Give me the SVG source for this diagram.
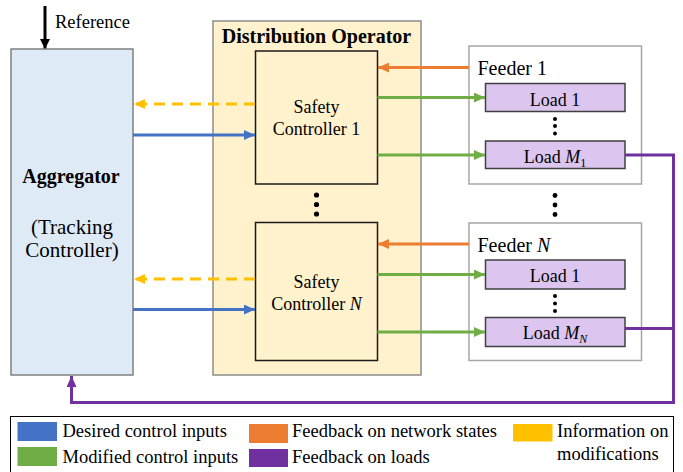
<svg xmlns="http://www.w3.org/2000/svg" width="683" height="472" viewBox="0 0 683 472">
  <style>
    text { font-family: "Liberation Serif", "Times New Roman", serif; fill: #000; }
    .t18 { font-size: 18px; }
    .t20 { font-size: 20px; }
    .lg { font-size: 18.5px; }
    .b { font-weight: bold; font-size: 20px; }
    .mid { text-anchor: middle; }
    .it { font-style: italic; }
    .ctl { fill: #FFF2CC; stroke: #1a1a1a; stroke-width: 1.5; }
    .load { fill: #DCC6F0; stroke: #404040; stroke-width: 1.5; }
    .feeder { fill: #FFFFFF; stroke: #A6A6A6; stroke-width: 1.5; }
    .ln { fill: none; stroke-width: 3; }
    .blue { stroke: #4472C4; }
    .green { stroke: #70AD47; }
    .orange { stroke: #ED7D31; }
    .yellow { stroke: #FFC000; stroke-dasharray: 11 7; }
    .purple { stroke: #7030A0; }
  </style>
  <defs>
    <marker id="ah-blue" markerUnits="userSpaceOnUse" markerWidth="11" markerHeight="10" refX="11" refY="5" orient="auto">
      <path d="M0,0 L11,5 L0,10 z" fill="#4472C4"/>
    </marker>
    <marker id="ah-green" markerUnits="userSpaceOnUse" markerWidth="11" markerHeight="10" refX="11" refY="5" orient="auto">
      <path d="M0,0 L11,5 L0,10 z" fill="#70AD47"/>
    </marker>
    <marker id="ah-orange" markerUnits="userSpaceOnUse" markerWidth="11" markerHeight="10" refX="11" refY="5" orient="auto">
      <path d="M0,0 L11,5 L0,10 z" fill="#ED7D31"/>
    </marker>
    <marker id="ah-yellow" markerUnits="userSpaceOnUse" markerWidth="11" markerHeight="10" refX="11" refY="5" orient="auto">
      <path d="M0,0 L11,5 L0,10 z" fill="#FFC000"/>
    </marker>
    <marker id="ah-purple" markerUnits="userSpaceOnUse" markerWidth="11" markerHeight="10" refX="11" refY="5" orient="auto">
      <path d="M0,0 L11,5 L0,10 z" fill="#7030A0"/>
    </marker>
    <marker id="ah-black" markerUnits="userSpaceOnUse" markerWidth="10" markerHeight="10" refX="10" refY="5" orient="auto">
      <path d="M0,0 L10,5 L0,10 z" fill="#000"/>
    </marker>
  </defs>

  <!-- Reference input -->
  <g id="reference">
    <line x1="45" y1="6" x2="45" y2="49" stroke="#000" stroke-width="3" marker-end="url(#ah-black)"/>
    <text class="lg" x="55" y="28">Reference</text>
  </g>

  <!-- Aggregator -->
  <g id="aggregator">
    <rect x="11" y="49" width="122" height="326" fill="#DEEBF7" stroke="#808080" stroke-width="1.5"/>
    <text class="b mid" x="71" y="183">Aggregator</text>
    <text class="mid" font-size="21" x="72" y="234">(Tracking</text>
    <text class="mid" font-size="21" x="72" y="257">Controller)</text>
  </g>

  <!-- Distribution operator with safety controllers -->
  <g id="distribution-operator">
    <rect x="213" y="21" width="208" height="354" fill="#FFF2CC" stroke="#8C8C8C" stroke-width="1.5"/>
    <text class="b mid" x="316.5" y="43">Distribution Operator</text>
  </g>
  <g id="safety-controller-1">
    <rect class="ctl" x="255.5" y="51" width="122" height="133"/>
    <text class="t18 mid" x="316.5" y="113">Safety</text>
    <text class="t18 mid" x="316.5" y="134.5">Controller 1</text>
  </g>
  <g id="controller-dots">
    <circle cx="316.5" cy="195" r="2.6"/>
    <circle cx="316.5" cy="204.5" r="2.6"/>
    <circle cx="316.5" cy="214" r="2.6"/>
  </g>
  <g id="safety-controller-n">
    <rect class="ctl" x="255.5" y="222.5" width="122" height="138"/>
    <text class="t18 mid" x="316.5" y="287.5">Safety</text>
    <text class="t18 mid" x="316.5" y="309.5">Controller <tspan class="it">N</tspan></text>
  </g>

  <!-- Feeder 1 -->
  <g id="feeder-1">
    <rect class="feeder" x="469" y="46" width="172.5" height="138"/>
    <text class="t20" x="477.5" y="74.5">Feeder 1</text>
    <rect class="load" x="485.5" y="83.5" width="139.5" height="28"/>
    <text class="t18 mid" x="555" y="105.5">Load 1</text>
    <circle cx="555" cy="119" r="2"/>
    <circle cx="555" cy="126" r="2"/>
    <circle cx="555" cy="133.5" r="2"/>
    <rect class="load" x="485.5" y="141" width="139.5" height="27.5"/>
    <text class="t18 mid" x="555" y="162.5">Load <tspan class="it">M</tspan><tspan font-size="12" dy="4">1</tspan></text>
  </g>
  <g id="feeder-dots">
    <circle cx="555" cy="195.5" r="2.4"/>
    <circle cx="555" cy="205" r="2.4"/>
    <circle cx="555" cy="214.5" r="2.4"/>
  </g>

  <!-- Feeder N -->
  <g id="feeder-n">
    <rect class="feeder" x="469" y="223" width="172.5" height="137.5"/>
    <text class="t20" x="477.5" y="251.5">Feeder <tspan class="it">N</tspan></text>
    <rect class="load" x="485.5" y="260" width="139.5" height="29"/>
    <text class="t18 mid" x="555" y="281.5">Load 1</text>
    <circle cx="555" cy="296" r="2"/>
    <circle cx="555" cy="303.5" r="2"/>
    <circle cx="555" cy="311" r="2"/>
    <rect class="load" x="485.5" y="317.5" width="139.5" height="29"/>
    <text class="t18 mid" x="555" y="338.5">Load <tspan class="it">M</tspan><tspan class="it" font-size="12" dy="4">N</tspan></text>
  </g>

  <!-- Signal flows -->
  <g id="connectors">
    <!-- controller 1 -->
    <line class="ln yellow" x1="255" y1="104" x2="134" y2="104" marker-end="url(#ah-yellow)"/>
    <line class="ln blue" x1="133" y1="135" x2="255" y2="135" marker-end="url(#ah-blue)"/>
    <line class="ln orange" x1="469" y1="67.5" x2="378" y2="67.5" marker-end="url(#ah-orange)"/>
    <line class="ln green" x1="377.5" y1="97.5" x2="485" y2="97.5" marker-end="url(#ah-green)"/>
    <line class="ln green" x1="377.5" y1="155" x2="485" y2="155" marker-end="url(#ah-green)"/>
    <!-- controller N -->
    <line class="ln yellow" x1="255" y1="279" x2="134" y2="279" marker-end="url(#ah-yellow)"/>
    <line class="ln blue" x1="133" y1="309.5" x2="255" y2="309.5" marker-end="url(#ah-blue)"/>
    <line class="ln orange" x1="469" y1="244" x2="378" y2="244" marker-end="url(#ah-orange)"/>
    <line class="ln green" x1="377.5" y1="274.5" x2="485" y2="274.5" marker-end="url(#ah-green)"/>
    <line class="ln green" x1="377.5" y1="332" x2="485" y2="332" marker-end="url(#ah-green)"/>
    <!-- load feedback to aggregator -->
    <path class="ln purple" d="M625,155 H673.5 V402.5 H71.5 V376" marker-end="url(#ah-purple)"/>
    <path class="ln purple" d="M625,328.5 H673.5"/>
  </g>

  <!-- Legend -->
  <g id="legend">
    <rect x="10.5" y="416.5" width="663" height="70" fill="#FFFFFF" stroke="#000" stroke-width="1"/>
    <rect x="17.5" y="422" width="39.5" height="19" fill="#4472C4"/>
    <text class="lg" x="62.5" y="437">Desired control inputs</text>
    <rect x="17.5" y="447" width="39.5" height="19" fill="#70AD47"/>
    <text class="lg" x="62.5" y="463">Modified control inputs</text>
    <rect x="249" y="424" width="39" height="19" fill="#ED7D31"/>
    <text class="lg" x="292" y="437">Feedback on network states</text>
    <rect x="249" y="449" width="39" height="18" fill="#7030A0"/>
    <text class="lg" x="292" y="463">Feedback on loads</text>
    <rect x="513" y="424" width="39.5" height="17.5" fill="#FFC000"/>
    <text class="lg" x="557" y="437">Information on</text>
    <text class="lg" x="557" y="460">modifications</text>
  </g>
</svg>
